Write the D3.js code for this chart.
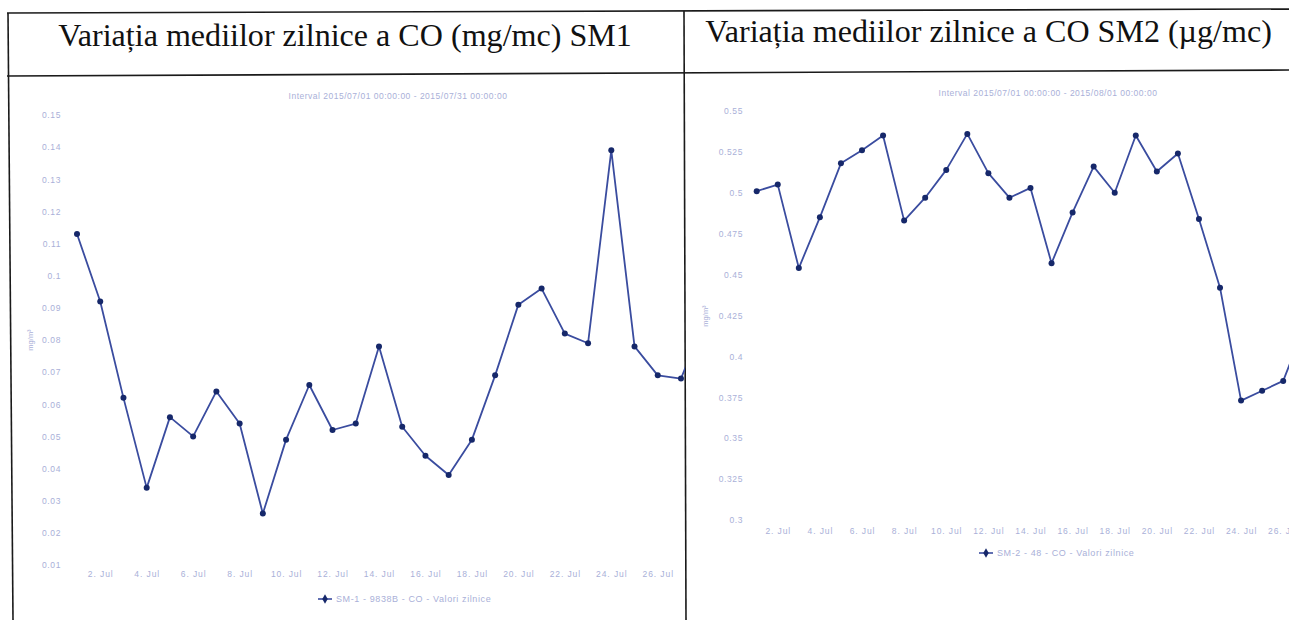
<!DOCTYPE html>
<html><head><meta charset="utf-8">
<script src="https://cdn.jsdelivr.net/npm/d3@7"></script>
<style>
html,body{margin:0;padding:0;background:#fff;}
svg{display:block;}
</style></head>
<body>
<svg id="c" width="1289" height="620"></svg>
<script>
// ---- data ----
const titles = ["Variația mediilor zilnice a CO (mg/mc) SM1", "Variația mediilor zilnice a CO SM2 (µg/mc)"];
const intervals = ["Interval 2015/07/01 00:00:00 - 2015/07/31 00:00:00", "Interval 2015/07/01 00:00:00 - 2015/08/01 00:00:00"];
const legends = ["SM-1 - 9838B - CO - Valori zilnice", "SM-2 - 48 - CO - Valori zilnice"];
const unitLabels = ["mg/m³", "mg/m³"];
const days = d3.range(1, 29);
const sm1Values = [0.113,0.092,0.062,0.034,0.056,0.050,0.064,0.054,0.026,0.049,0.066,0.052,0.054,0.078,0.053,0.044,0.038,0.049,0.069,0.091,0.096,0.082,0.079,0.139,0.078,0.069,0.068,0.086];
const sm2Values = [0.501,0.505,0.454,0.485,0.518,0.526,0.535,0.483,0.497,0.514,0.536,0.512,0.497,0.503,0.457,0.488,0.516,0.500,0.535,0.513,0.524,0.484,0.442,0.373,0.379,0.385,0.418,0.43];
const sm1Ticks = [0.15,0.14,0.13,0.12,0.11,0.1,0.09,0.08,0.07,0.06,0.05,0.04,0.03,0.02,0.01];
const sm2Ticks = [0.55,0.525,0.5,0.475,0.45,0.425,0.4,0.375,0.35,0.325,0.3];
const xTickDays = [2,4,6,8,10,12,14,16,18,20,22,24,26,28];

const svg = d3.select("#c");
const lightText = "#a9b0d8";
const lineColor = "#3a4c9f";
const dotColor = "#16286a";
const sans = "'Liberation Sans',Arial,sans-serif";

// ---- table frame ----
const frame = svg.append("g").attr("stroke", "#1a1a1a").attr("stroke-width", 1.6);
frame.append("line").attr("x1", 7).attr("y1", 13).attr("x2", 1289).attr("y2", 9);
frame.append("line").attr("x1", 7).attr("y1", 76).attr("x2", 1289).attr("y2", 70);
frame.append("line").attr("x1", 8).attr("y1", 13).attr("x2", 13).attr("y2", 620);
frame.append("line").attr("x1", 684).attr("y1", 11).attr("x2", 686).attr("y2", 620);

// ---- titles ----
function fitTitle(txt, x0, x1, y) {
  const t = svg.append("text").attr("x", (x0 + x1) / 2).attr("y", y)
    .attr("text-anchor", "middle")
    .attr("font-family", "'Liberation Serif','Times New Roman',serif")
    .attr("font-size", 28).attr("fill", "#111").text(txt);
  const w = t.node().getComputedTextLength();
  t.attr("font-size", 28 * (x1 - x0) / w);
}
fitTitle(titles[0], 58, 632, 46);
fitTitle(titles[1], 705, 1272, 42);

// ---- chart builder ----
function chart(cfg) {
  const defs = svg.append("defs");
  defs.append("clipPath").attr("id", cfg.id).append("rect")
    .attr("x", cfg.clip[0]).attr("y", 80).attr("width", cfg.clip[1] - cfg.clip[0]).attr("height", 540);
  const g = svg.append("g").attr("clip-path", `url(#${cfg.id})`);
  const x = d3.scaleLinear().domain([1, cfg.lastDay]).range(cfg.xRange);
  const y = d3.scaleLinear().domain(cfg.yDomain).range(cfg.yRange);

  // y axis labels
  const ya = g.append("g").attr("transform", `translate(${cfg.yAxisX},0)`)
    .call(d3.axisLeft(y).tickValues(cfg.ticks).tickSize(0).tickPadding(0).tickFormat(d => String(+d.toFixed(3))));
  ya.select(".domain").remove();
  ya.selectAll("text").attr("fill", lightText).attr("font-size", 8.5)
    .attr("letter-spacing", 0.6).attr("font-family", sans);

  // x axis labels
  const xa = g.append("g").attr("transform", `translate(0,${cfg.xAxisY})`)
    .call(d3.axisBottom(x).tickValues(xTickDays).tickSize(0).tickPadding(0).tickFormat(d => d + ". Jul"));
  xa.select(".domain").remove();
  xa.selectAll("text").attr("fill", lightText).attr("font-size", 8.5)
    .attr("letter-spacing", 0.9).attr("font-family", sans);

  // unit label
  g.append("text").attr("transform", `translate(${cfg.unitPos[0]},${cfg.unitPos[1]}) rotate(-90)`)
    .attr("text-anchor", "middle").attr("fill", lightText).attr("font-size", 7.5)
    .attr("font-family", sans).text(cfg.unit);

  // interval subtitle
  g.append("text").attr("x", cfg.intervalPos[0]).attr("y", cfg.intervalPos[1])
    .attr("text-anchor", "middle").attr("fill", lightText).attr("font-size", 8.5)
    .attr("letter-spacing", 0.5).attr("font-family", sans).text(cfg.interval);

  // line
  const data = days.map((d, i) => ({ d, v: cfg.values[i] }));
  g.append("path").datum(data).attr("fill", "none").attr("stroke", lineColor).attr("stroke-width", 1.8)
    .attr("stroke-linejoin", "round")
    .attr("d", d3.line().x(p => x(p.d)).y(p => y(p.v)));
  g.selectAll(".dot").data(data).enter().append("circle")
    .attr("cx", p => x(p.d)).attr("cy", p => y(p.v)).attr("r", 3).attr("fill", dotColor);

  // legend
  const lg = g.append("g").attr("transform", `translate(${cfg.legendPos[0]},${cfg.legendPos[1]})`);
  lg.append("line").attr("x1", -7).attr("x2", 7).attr("stroke", lineColor).attr("stroke-width", 1.6);
  lg.append("path").attr("d", d3.symbol(d3.symbolDiamond, 26)()).attr("fill", dotColor);
  lg.append("text").attr("x", 11).attr("y", 3).attr("fill", lightText).attr("font-size", 9)
    .attr("letter-spacing", 0.6).attr("font-family", sans).text(cfg.legend);
}

chart({
  id: "clip1", clip: [14, 685], values: sm1Values, ticks: sm1Ticks, lastDay: 28,
  xRange: [77, 77 + 27 * 23.23], yDomain: [0.01, 0.15], yRange: [565, 115],
  yAxisX: 61, xAxisY: 571, unit: unitLabels[0], unitPos: [33, 340],
  interval: intervals[0], intervalPos: [398, 99], legend: legends[0], legendPos: [325, 599]
});
chart({
  id: "clip2", clip: [688, 1289], values: sm2Values, ticks: sm2Ticks, lastDay: 28,
  xRange: [756.7, 756.7 + 27 * 21.06], yDomain: [0.3, 0.55], yRange: [520, 111],
  yAxisX: 743, xAxisY: 528, unit: unitLabels[1], unitPos: [708, 316],
  interval: intervals[1], intervalPos: [1048, 96], legend: legends[1], legendPos: [986, 553]
});
</script>
</body></html>
